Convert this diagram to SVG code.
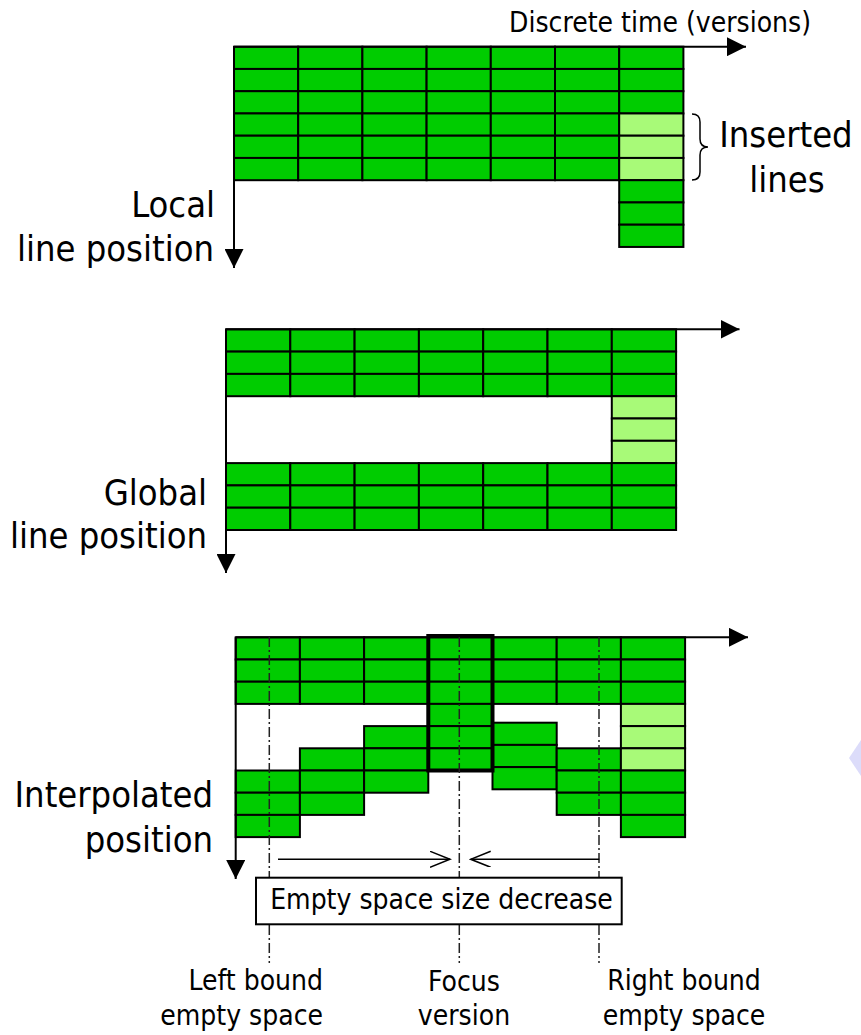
<svg xmlns="http://www.w3.org/2000/svg" width="861" height="1035" viewBox="0 0 861 1035">
<style>
  text { font-family: "DejaVu Sans Condensed", "Liberation Sans", sans-serif; fill: #000; }
  .big { font-size: 36px; }
  .small { font-size: 28px; }
  .g { fill: #00cc00; stroke: #000; stroke-width: 2; }
  .lg { fill: #a8fa78; stroke: #000; stroke-width: 2; }
  .axis { stroke: #000; stroke-width: 2; fill: none; }
  .dd { stroke: #222; stroke-width: 1.5; stroke-dasharray: 10 3 2 3; fill: none; }
  .thin { stroke: #000; stroke-width: 1.5; fill: none; }
</style>
<defs>
  <marker id="tri" markerUnits="userSpaceOnUse" markerWidth="19" markerHeight="19" refX="19" refY="9.5" orient="auto">
    <path d="M0,0 L19,9.5 L0,19 z" fill="#000"/>
  </marker>
  <marker id="chev" markerUnits="userSpaceOnUse" markerWidth="22" markerHeight="18" refX="20" refY="8" orient="auto">
    <path d="M0,0 L20,8 L0,16" fill="none" stroke="#000" stroke-width="1.5"/>
  </marker>
</defs>

<polygon points="861,740 849,758 861,776" fill="#dcdcfa"/>

<!-- Top grid: local line position -->
<g id="grid-local">
  <rect class="g" x="234" y="46.7" width="64.2" height="22.25"/>
  <rect class="g" x="298.2" y="46.7" width="64.2" height="22.25"/>
  <rect class="g" x="362.4" y="46.7" width="64.2" height="22.25"/>
  <rect class="g" x="426.6" y="46.7" width="64.2" height="22.25"/>
  <rect class="g" x="490.8" y="46.7" width="64.2" height="22.25"/>
  <rect class="g" x="555" y="46.7" width="64.2" height="22.25"/>
  <rect class="g" x="619.2" y="46.7" width="64.2" height="22.25"/>
  <rect class="g" x="234" y="68.95" width="64.2" height="22.25"/>
  <rect class="g" x="298.2" y="68.95" width="64.2" height="22.25"/>
  <rect class="g" x="362.4" y="68.95" width="64.2" height="22.25"/>
  <rect class="g" x="426.6" y="68.95" width="64.2" height="22.25"/>
  <rect class="g" x="490.8" y="68.95" width="64.2" height="22.25"/>
  <rect class="g" x="555" y="68.95" width="64.2" height="22.25"/>
  <rect class="g" x="619.2" y="68.95" width="64.2" height="22.25"/>
  <rect class="g" x="234" y="91.2" width="64.2" height="22.25"/>
  <rect class="g" x="298.2" y="91.2" width="64.2" height="22.25"/>
  <rect class="g" x="362.4" y="91.2" width="64.2" height="22.25"/>
  <rect class="g" x="426.6" y="91.2" width="64.2" height="22.25"/>
  <rect class="g" x="490.8" y="91.2" width="64.2" height="22.25"/>
  <rect class="g" x="555" y="91.2" width="64.2" height="22.25"/>
  <rect class="g" x="619.2" y="91.2" width="64.2" height="22.25"/>
  <rect class="g" x="234" y="113.45" width="64.2" height="22.25"/>
  <rect class="g" x="298.2" y="113.45" width="64.2" height="22.25"/>
  <rect class="g" x="362.4" y="113.45" width="64.2" height="22.25"/>
  <rect class="g" x="426.6" y="113.45" width="64.2" height="22.25"/>
  <rect class="g" x="490.8" y="113.45" width="64.2" height="22.25"/>
  <rect class="g" x="555" y="113.45" width="64.2" height="22.25"/>
  <rect class="lg" x="619.2" y="113.45" width="64.2" height="22.25"/>
  <rect class="g" x="234" y="135.7" width="64.2" height="22.25"/>
  <rect class="g" x="298.2" y="135.7" width="64.2" height="22.25"/>
  <rect class="g" x="362.4" y="135.7" width="64.2" height="22.25"/>
  <rect class="g" x="426.6" y="135.7" width="64.2" height="22.25"/>
  <rect class="g" x="490.8" y="135.7" width="64.2" height="22.25"/>
  <rect class="g" x="555" y="135.7" width="64.2" height="22.25"/>
  <rect class="lg" x="619.2" y="135.7" width="64.2" height="22.25"/>
  <rect class="g" x="234" y="157.95" width="64.2" height="22.25"/>
  <rect class="g" x="298.2" y="157.95" width="64.2" height="22.25"/>
  <rect class="g" x="362.4" y="157.95" width="64.2" height="22.25"/>
  <rect class="g" x="426.6" y="157.95" width="64.2" height="22.25"/>
  <rect class="g" x="490.8" y="157.95" width="64.2" height="22.25"/>
  <rect class="g" x="555" y="157.95" width="64.2" height="22.25"/>
  <rect class="lg" x="619.2" y="157.95" width="64.2" height="22.25"/>
  <rect class="g" x="619.2" y="180.2" width="64.2" height="22.25"/>
  <rect class="g" x="619.2" y="202.45" width="64.2" height="22.25"/>
  <rect class="g" x="619.2" y="224.7" width="64.2" height="22.25"/>
</g>

<!-- Middle grid: global line position -->
<g id="grid-global">
  <rect class="g" x="226" y="329.3" width="64.3" height="22.3"/>
  <rect class="g" x="290.3" y="329.3" width="64.3" height="22.3"/>
  <rect class="g" x="354.6" y="329.3" width="64.3" height="22.3"/>
  <rect class="g" x="418.9" y="329.3" width="64.3" height="22.3"/>
  <rect class="g" x="483.2" y="329.3" width="64.3" height="22.3"/>
  <rect class="g" x="547.5" y="329.3" width="64.3" height="22.3"/>
  <rect class="g" x="611.8" y="329.3" width="64.3" height="22.3"/>
  <rect class="g" x="226" y="351.6" width="64.3" height="22.3"/>
  <rect class="g" x="290.3" y="351.6" width="64.3" height="22.3"/>
  <rect class="g" x="354.6" y="351.6" width="64.3" height="22.3"/>
  <rect class="g" x="418.9" y="351.6" width="64.3" height="22.3"/>
  <rect class="g" x="483.2" y="351.6" width="64.3" height="22.3"/>
  <rect class="g" x="547.5" y="351.6" width="64.3" height="22.3"/>
  <rect class="g" x="611.8" y="351.6" width="64.3" height="22.3"/>
  <rect class="g" x="226" y="373.9" width="64.3" height="22.3"/>
  <rect class="g" x="290.3" y="373.9" width="64.3" height="22.3"/>
  <rect class="g" x="354.6" y="373.9" width="64.3" height="22.3"/>
  <rect class="g" x="418.9" y="373.9" width="64.3" height="22.3"/>
  <rect class="g" x="483.2" y="373.9" width="64.3" height="22.3"/>
  <rect class="g" x="547.5" y="373.9" width="64.3" height="22.3"/>
  <rect class="g" x="611.8" y="373.9" width="64.3" height="22.3"/>
  <rect class="lg" x="611.8" y="396.2" width="64.3" height="22.3"/>
  <rect class="lg" x="611.8" y="418.5" width="64.3" height="22.3"/>
  <rect class="lg" x="611.8" y="440.8" width="64.3" height="22.3"/>
  <rect class="g" x="226" y="463.1" width="64.3" height="22.3"/>
  <rect class="g" x="290.3" y="463.1" width="64.3" height="22.3"/>
  <rect class="g" x="354.6" y="463.1" width="64.3" height="22.3"/>
  <rect class="g" x="418.9" y="463.1" width="64.3" height="22.3"/>
  <rect class="g" x="483.2" y="463.1" width="64.3" height="22.3"/>
  <rect class="g" x="547.5" y="463.1" width="64.3" height="22.3"/>
  <rect class="g" x="611.8" y="463.1" width="64.3" height="22.3"/>
  <rect class="g" x="226" y="485.4" width="64.3" height="22.3"/>
  <rect class="g" x="290.3" y="485.4" width="64.3" height="22.3"/>
  <rect class="g" x="354.6" y="485.4" width="64.3" height="22.3"/>
  <rect class="g" x="418.9" y="485.4" width="64.3" height="22.3"/>
  <rect class="g" x="483.2" y="485.4" width="64.3" height="22.3"/>
  <rect class="g" x="547.5" y="485.4" width="64.3" height="22.3"/>
  <rect class="g" x="611.8" y="485.4" width="64.3" height="22.3"/>
  <rect class="g" x="226" y="507.7" width="64.3" height="22.3"/>
  <rect class="g" x="290.3" y="507.7" width="64.3" height="22.3"/>
  <rect class="g" x="354.6" y="507.7" width="64.3" height="22.3"/>
  <rect class="g" x="418.9" y="507.7" width="64.3" height="22.3"/>
  <rect class="g" x="483.2" y="507.7" width="64.3" height="22.3"/>
  <rect class="g" x="547.5" y="507.7" width="64.3" height="22.3"/>
  <rect class="g" x="611.8" y="507.7" width="64.3" height="22.3"/>
</g>

<!-- Bottom grid: interpolated position -->
<g id="grid-interpolated">
  <rect class="g" x="235.7" y="637.3" width="64.2" height="22.2"/>
  <rect class="g" x="299.9" y="637.3" width="64.2" height="22.2"/>
  <rect class="g" x="364.1" y="637.3" width="64.2" height="22.2"/>
  <rect class="g" x="492.5" y="637.3" width="64.2" height="22.2"/>
  <rect class="g" x="556.7" y="637.3" width="64.2" height="22.2"/>
  <rect class="g" x="620.9" y="637.3" width="64.2" height="22.2"/>
  <rect class="g" x="235.7" y="659.5" width="64.2" height="22.2"/>
  <rect class="g" x="299.9" y="659.5" width="64.2" height="22.2"/>
  <rect class="g" x="364.1" y="659.5" width="64.2" height="22.2"/>
  <rect class="g" x="492.5" y="659.5" width="64.2" height="22.2"/>
  <rect class="g" x="556.7" y="659.5" width="64.2" height="22.2"/>
  <rect class="g" x="620.9" y="659.5" width="64.2" height="22.2"/>
  <rect class="g" x="235.7" y="681.7" width="64.2" height="22.2"/>
  <rect class="g" x="299.9" y="681.7" width="64.2" height="22.2"/>
  <rect class="g" x="364.1" y="681.7" width="64.2" height="22.2"/>
  <rect class="g" x="492.5" y="681.7" width="64.2" height="22.2"/>
  <rect class="g" x="556.7" y="681.7" width="64.2" height="22.2"/>
  <rect class="g" x="620.9" y="681.7" width="64.2" height="22.2"/>
  <rect class="g" x="235.7" y="770.5" width="64.2" height="22.2"/>
  <rect class="g" x="235.7" y="792.7" width="64.2" height="22.2"/>
  <rect class="g" x="235.7" y="814.9" width="64.2" height="22.2"/>
  <rect class="g" x="299.9" y="748.3" width="64.2" height="22.2"/>
  <rect class="g" x="299.9" y="770.5" width="64.2" height="22.2"/>
  <rect class="g" x="299.9" y="792.7" width="64.2" height="22.2"/>
  <rect class="g" x="364.1" y="726.1" width="64.2" height="22.2"/>
  <rect class="g" x="364.1" y="748.3" width="64.2" height="22.2"/>
  <rect class="g" x="364.1" y="770.5" width="64.2" height="22.2"/>
  <rect class="g" x="492.5" y="722.7" width="64.2" height="22.2"/>
  <rect class="g" x="492.5" y="744.9" width="64.2" height="22.2"/>
  <rect class="g" x="492.5" y="767.1" width="64.2" height="22.2"/>
  <rect class="g" x="556.7" y="748.3" width="64.2" height="22.2"/>
  <rect class="g" x="556.7" y="770.5" width="64.2" height="22.2"/>
  <rect class="g" x="556.7" y="792.7" width="64.2" height="22.2"/>
  <rect class="lg" x="620.9" y="703.9" width="64.2" height="22.2"/>
  <rect class="lg" x="620.9" y="726.1" width="64.2" height="22.2"/>
  <rect class="lg" x="620.9" y="748.3" width="64.2" height="22.2"/>
  <rect class="g" x="620.9" y="770.5" width="64.2" height="22.2"/>
  <rect class="g" x="620.9" y="792.7" width="64.2" height="22.2"/>
  <rect class="g" x="620.9" y="814.9" width="64.2" height="22.2"/>
</g>

<!-- Focus version column -->
<g id="focus-column">
  <rect class="g" x="428.3" y="637.3" width="64.2" height="22.2"/>
  <rect class="g" x="428.3" y="659.5" width="64.2" height="22.2"/>
  <rect class="g" x="428.3" y="681.7" width="64.2" height="22.2"/>
  <rect class="g" x="428.3" y="703.9" width="64.2" height="22.2"/>
  <rect class="g" x="428.3" y="726.1" width="64.2" height="22.2"/>
  <rect class="g" x="428.3" y="748.3" width="64.2" height="22.2"/>
  <rect x="428.3" y="636" width="64.2" height="134.5" fill="none" stroke="#000" stroke-width="4"/>
</g>

<!-- Connectors / axes -->
<g id="connectors">
  <line class="axis" x1="234" y1="46.7" x2="746" y2="46.7" marker-end="url(#tri)"/>
  <line class="axis" x1="234" y1="46.7" x2="234" y2="268" marker-end="url(#tri)"/>
  <line class="axis" x1="226" y1="329.3" x2="739.5" y2="329.3" marker-end="url(#tri)"/>
  <line class="axis" x1="226" y1="329.3" x2="226" y2="573" marker-end="url(#tri)"/>
  <line class="axis" x1="235.7" y1="637.3" x2="748" y2="637.3" marker-end="url(#tri)"/>
  <line class="axis" x1="235.7" y1="637.3" x2="235.7" y2="879" marker-end="url(#tri)"/>

  <line class="dd" x1="269.3" y1="637" x2="269.3" y2="963"/>
  <line class="dd" x1="459.3" y1="637" x2="459.3" y2="963"/>
  <line class="dd" x1="599" y1="637" x2="599" y2="963"/>

  <line class="thin" x1="278" y1="859.3" x2="450" y2="859.3" marker-end="url(#chev)"/>
  <line class="thin" x1="599.3" y1="859.3" x2="470.7" y2="859.3" marker-end="url(#chev)"/>

  <path class="thin" d="M692,114 Q700,114 700,122 L700,139 Q700,147 708,147 Q700,147 700,155 L700,172 Q700,180 692,180"/>
</g>

<g id="decrease-box">
  <rect x="256" y="877.7" width="365.7" height="46.6" fill="#fff" stroke="#000" stroke-width="2"/>
  <text class="small" x="441.5" y="909" text-anchor="middle">Empty space size decrease</text>
</g>

<g id="labels">
  <text class="small" x="811" y="32" text-anchor="end">Discrete time (versions)</text>
  <text class="big" x="786" y="147" text-anchor="middle">Inserted</text>
  <text class="big" x="787" y="192" text-anchor="middle">lines</text>
  <text class="big" x="215" y="217" text-anchor="end">Local</text>
  <text class="big" x="214" y="261" text-anchor="end">line position</text>
  <text class="big" x="207" y="505" text-anchor="end">Global</text>
  <text class="big" x="207" y="548" text-anchor="end">line position</text>
  <text class="big" x="213" y="807" text-anchor="end">Interpolated</text>
  <text class="big" x="213" y="852" text-anchor="end">position</text>
  <text class="small" x="323" y="990" text-anchor="end">Left bound</text>
  <text class="small" x="323" y="1025" text-anchor="end">empty space</text>
  <text class="small" x="464" y="991" text-anchor="middle">Focus</text>
  <text class="small" x="464" y="1025" text-anchor="middle">version</text>
  <text class="small" x="684" y="990" text-anchor="middle">Right bound</text>
  <text class="small" x="684" y="1025" text-anchor="middle">empty space</text>
</g>
</svg>
